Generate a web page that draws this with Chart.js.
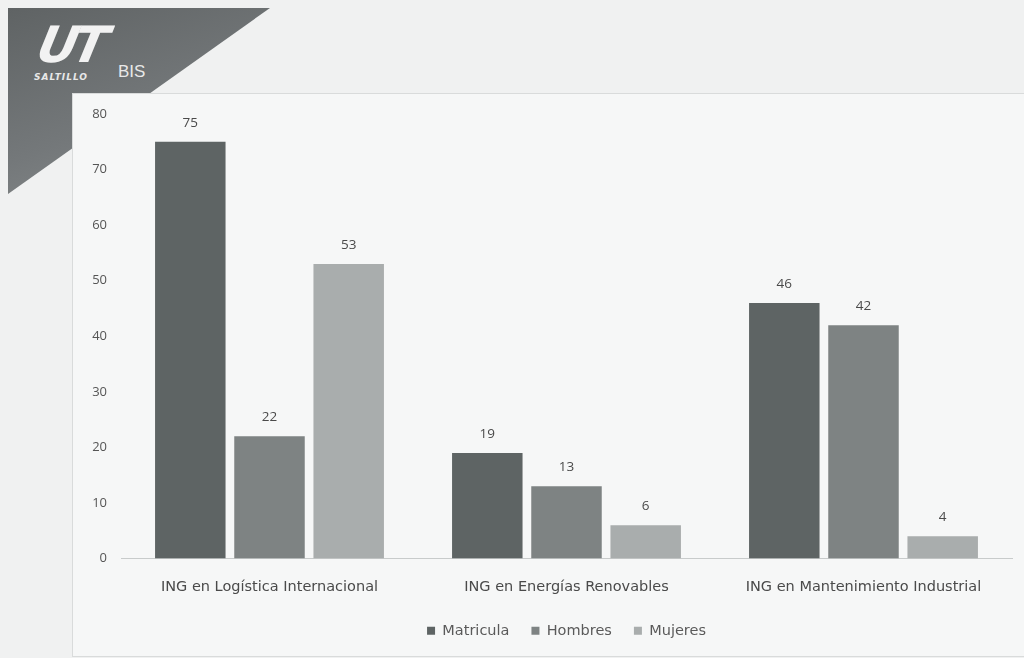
<!DOCTYPE html>
<html>
<head>
<meta charset="utf-8">
<script src="https://cdn.jsdelivr.net/npm/chart.js@4"></script>
<style>
  html, body { margin: 0; padding: 0; }
  body { width: 1024px; height: 658px; background: #f0f1f1; position: relative; overflow: hidden; font-family: "Open Sans", sans-serif; }
  #logo { position: absolute; left: 8px; top: 8px; width: 262px; height: 186px;
          background: linear-gradient(160deg, #5f6364 0%, #74787a 55%, #8a8e8f 100%);
          clip-path: polygon(0 0, 100% 0, 0 100%); }
  #ut { position: absolute; left: 38px; top: 16px; color: #f2f2f2; font: italic 900 50px "DejaVu Sans", sans-serif; letter-spacing: -5px; transform: skewX(-12deg); }
  #saltillo { position: absolute; left: 34px; top: 72px; color: #e8e8e8; font: italic bold 9px "DejaVu Sans", sans-serif; letter-spacing: 1px; }
  #bis { position: absolute; left: 118px; top: 62px; color: #e8e8e8; font: 17px "Liberation Sans Narrow", "Liberation Sans", sans-serif; }
  #panel { position: absolute; left: 72px; top: 93px; width: 952px; height: 562px; background: #f6f7f7; border-left: 1px solid #d9dbdb; border-top: 1px solid #d9dbdb; border-bottom: 1px solid #d9dbdb; }
  #wrap { position: absolute; left: 0; top: 0; width: 1024px; height: 658px; }
</style>
</head>
<body>
<div id="logo"></div>
<div id="ut">UT</div>
<div id="saltillo">SALTILLO</div>
<div id="bis">BIS</div>
<div id="panel"></div>
<div id="wrap"><canvas id="chart" width="1024" height="658"></canvas></div>
<script>
const carreras = ['ING en Logística Internacional', 'ING en Energías Renovables', 'ING en Mantenimiento Industrial'];
const matricula = [75, 19, 46];
const hombres = [22, 13, 42];
const mujeres = [53, 6, 4];
const yTicks = [0, 10, 20, 30, 40, 50, 60, 70, 80];

// numbers above each bar
const valueLabels = {
    id: 'valueLabels',
    afterDatasetsDraw(chart) {
        const ctx = chart.ctx;
        ctx.save();
        ctx.font = '13.5px "Open Sans", sans-serif';
        ctx.fillStyle = '#4a4a4a';
        ctx.textAlign = 'center';
        ctx.textBaseline = 'bottom';
        chart.data.datasets.forEach((ds, i) => {
            chart.getDatasetMeta(i).data.forEach((bar, j) => {
                ctx.fillText(ds.data[j], bar.x, bar.y - 12);
            });
        });
        ctx.restore();
    }
};

const data = {
    labels: carreras,
    datasets: [{
        label: 'Matricula',
        backgroundColor: '#5e6464',
        data: matricula
    },
    {
        label: 'Hombres',
        backgroundColor: '#7e8383',
        data: hombres
    },
    {
        label: 'Mujeres',
        backgroundColor: '#a9adad',
        data: mujeres
    }]
};

const config = {
    type: 'bar',
    data: data,
    options: {
        responsive: false,
        animation: false,
        categoryPercentage: 0.8,
        barPercentage: 0.89,
        layout: {
            padding: { left: 0, right: 12, top: 114, bottom: 10 }
        },
        plugins: {
            legend: {
                position: 'bottom',
                fullSize: false,
                labels: {
                    boxWidth: 8,
                    boxHeight: 8,
                    padding: 22,
                    color: '#5a5a5a',
                    font: { family: 'DejaVu Sans', size: 14.5 }
                }
            },
            tooltip: { enabled: false }
        },
        scales: {
            x: {
                grid: { display: false, drawTicks: false },
                border: { color: '#c8cbcb', width: 1 },
                ticks: { color: '#4a4a4a', padding: 20, font: { family: 'DejaVu Sans', size: 14.5 } },
                afterFit(s) { s.height = 43; }
            },
            y: {
                min: 0,
                max: 80,
                afterBuildTicks(s) { s.ticks = yTicks.map(v => ({ value: v })); },
                grid: { display: false, drawTicks: false },
                border: { display: false },
                ticks: { color: '#555', padding: 14, font: { family: 'Open Sans', size: 13 } },
                afterFit(s) { s.width = 121; }
            }
        }
    },
    plugins: [valueLabels]
};

var chart = new Chart('chart', config);
</script>
</body>
</html>
